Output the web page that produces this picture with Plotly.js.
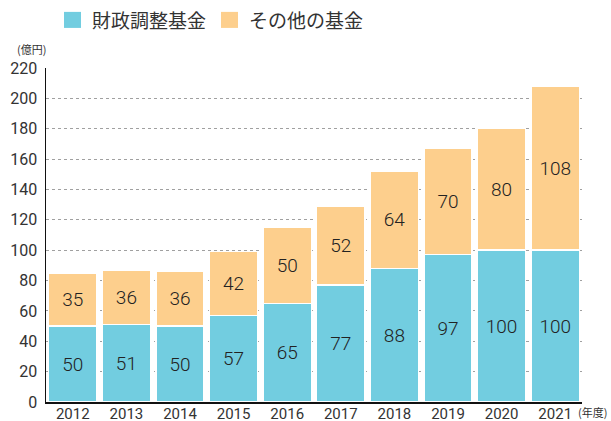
<!DOCTYPE html>
<html><head><meta charset="utf-8">
<script src="https://cdn.plot.ly/plotly-3.0.1.min.js"></script>
<style>html,body{margin:0;padding:0;background:#fff}#c{width:611px;height:421px}</style>
</head><body><div id="c"></div>
<script>
const years = ['2012','2013','2014','2015','2016','2017','2018','2019','2020','2021'];
const fiscalAdj = [50,51,50,57,65,77,88,97,100,100];
const otherFunds = [35,36,36,42,50,52,64,70,80,108];
const seriesNames = ['財政調整基金','その他の基金'];
const colors = ['#72cde0','#fdcf8d'];
const numFont = 'Roboto, "Liberation Sans Narrow", "DejaVu Sans Condensed", sans-serif';
const jpFont = '"Noto Sans CJK JP", sans-serif';

const mk = (vals, i) => ({
  type:'bar', x: years, y: vals, name: seriesNames[i],
  marker:{color: colors[i], line:{color:'#fff', width:1.5}},
  text: vals.map(String), textposition:'inside', insidetextanchor:'middle',
  textfont:{family:numFont, size:19, color:'#222', weight:300},
  showlegend:false, hoverinfo:'skip'
});

const layout = {
  width:611, height:421,
  margin:{l:46, r:29, t:68, b:19},
  barmode:'stack', bargap:0.1,
  paper_bgcolor:'#fff', plot_bgcolor:'#fff',
  xaxis:{type:'category', showline:true, linecolor:'#111', linewidth:1.5,
    ticks:'', tickfont:{family:numFont, size:15, color:'#333'}, showgrid:false,
    range:[-0.5,9.5], ticklabelstandoff:-3},
  yaxis:{range:[0,220], dtick:20, showline:true, linecolor:'#111', linewidth:1.5,
    ticks:'', tickfont:{family:numFont, size:16, color:'#333'},
    showgrid:true, gridcolor:'#a0a0a0', griddash:'3px,3px', gridwidth:1, zeroline:false,
    ticklabelstandoff:4},
  shapes:[
    {type:'rect', xref:'paper', yref:'paper', x0:0.0336, x1:0.0653, y0:1.120, y1:1.168, fillcolor:colors[0], line:{width:0}},
    {type:'rect', xref:'paper', yref:'paper', x0:0.3265, x1:0.3582, y0:1.120, y1:1.168, fillcolor:colors[1], line:{width:0}}
  ],
  annotations:[
    {xref:'paper', yref:'paper', x:0.082, y:1.144, xanchor:'left', yanchor:'middle', showarrow:false,
     text:seriesNames[0], font:{family:jpFont, size:19, color:'#333'}},
    {xref:'paper', yref:'paper', x:0.375, y:1.144, xanchor:'left', yanchor:'middle', showarrow:false,
     text:seriesNames[1], font:{family:jpFont, size:19, color:'#333'}},
    {xref:'paper', yref:'paper', x:0, y:1, xanchor:'right', yanchor:'bottom', showarrow:false,
     text:'(億円)', font:{family:jpFont, size:11, color:'#333'}, yshift:9, xshift:2},
    {xref:'paper', yref:'paper', x:1, y:0, xanchor:'left', yanchor:'middle', showarrow:false,
     text:'(年度)', font:{family:jpFont, size:11, color:'#333'}, yshift:-10, xshift:-6}
  ]
};
Plotly.newPlot('c', [mk(fiscalAdj,0), mk(otherFunds,1)], layout, {staticPlot:true});
</script></body></html>
